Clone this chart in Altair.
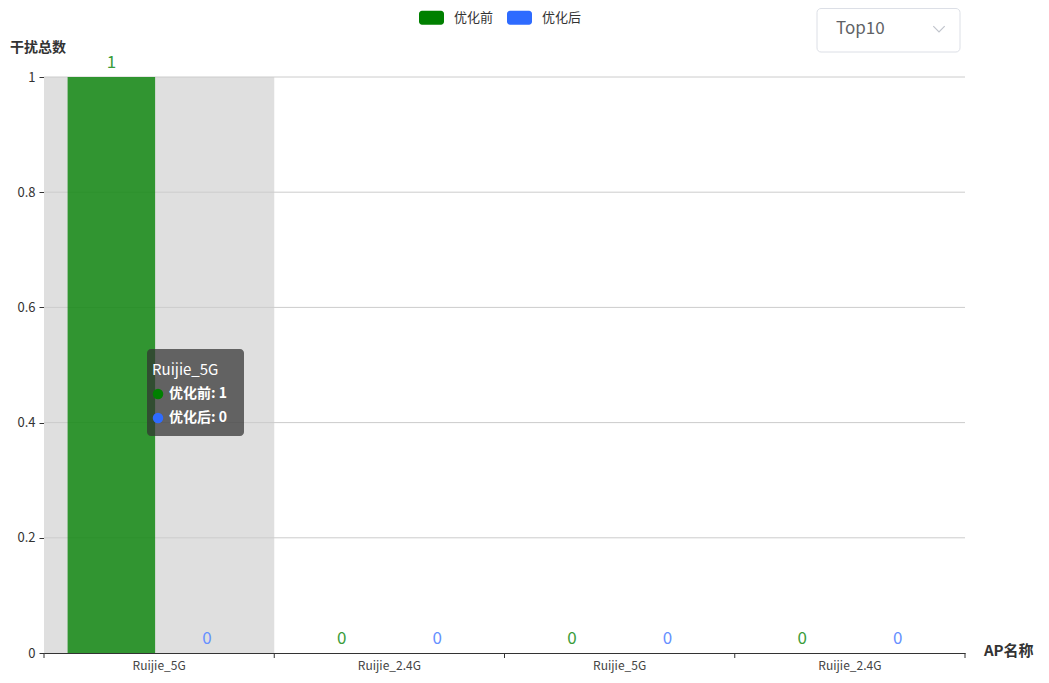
import altair as alt
import pandas as pd

# ---- data ----
categories = ["Ruijie_5G", "Ruijie_2.4G", "Ruijie_5G", "Ruijie_2.4G"]
series = ["优化前", "优化后"]
before = [1, 0, 0, 0]
after = [0, 0, 0, 0]
y_ticks = [0, 0.2, 0.4, 0.6, 0.8, 1]
highlight_index = 0
dropdown_label = "Top10"

bar_colors = ["#008000", "#2e6bff"]
label_colors = ["#3a9c3a", "#6690ff"]

keys = [f"{c}#{i}" for i, c in enumerate(categories)]
rows = []
for i, k in enumerate(keys):
    rows.append({"key": k, "series": series[0], "value": before[i]})
    rows.append({"key": k, "series": series[1], "value": after[i]})
df = pd.DataFrame(rows)

W, H = 921, 576
FONT = "Noto Sans CJK SC"
STEP = W / len(keys)

xscale = alt.Scale(domain=keys, paddingInner=0, paddingOuter=0)
yscale = alt.Scale(domain=[0, 1], nice=False)

x_enc = alt.X(
    "key:N",
    scale=xscale,
    axis=alt.Axis(
        title=None,
        labelExpr="split(datum.value, '#')[0]",
        ticks=True,
        tickSize=7,
        tickColor="rgba(0,0,0,0)",
        labelPadding=0,
        labelBaseline="top",
        labelFontSize=12,
        labelColor="#444",
        labelAngle=0,
        labelAlign="center",
        domainColor="#333",
        grid=False,
    ),
)
y_enc = alt.Y(
    "value:Q",
    scale=yscale,
    axis=alt.Axis(
        values=y_ticks,
        format="~g",
        grid=False,
        title=None,
        domainColor="#333",
        tickColor="#333",
        tickSize=5,
        labelColor="#333",
        labelFontSize=13,
        labelPadding=4,
    ),
)

one = pd.DataFrame({"a": [0]})

# hover shadow
shadow = alt.Chart(pd.DataFrame({"key": [keys[highlight_index]]})).mark_rect(
    color="#dfdfdf"
).encode(
    x=alt.X("key:N", scale=xscale),
    y=alt.Y(datum=1, scale=yscale),
    y2=alt.Y2(datum=0),
)

# gridlines
grid = alt.Chart(pd.DataFrame({"v": y_ticks[1:]})).mark_rule(
    color="#cccccc", strokeWidth=1
).encode(y=alt.Y("v:Q", scale=yscale))

legend_path = (
    "M-0.76,-0.56 L0.76,-0.56 A0.24,0.24 0 0 1 1,-0.32 L1,0.32 "
    "A0.24,0.24 0 0 1 0.76,0.56 L-0.76,0.56 A0.24,0.24 0 0 1 -1,0.32 "
    "L-1,-0.32 A0.24,0.24 0 0 1 -0.76,-0.56 Z"
)

xoff = alt.XOffset(
    "series:N",
    sort=series,
    scale=alt.Scale(domain=series, paddingInner=0.084, paddingOuter=0.247),
)

bars = alt.Chart(df).mark_bar(opacity=0.78).encode(
    x=x_enc,
    xOffset=xoff,
    y=y_enc,
    color=alt.Color(
        "series:N",
        scale=alt.Scale(domain=series, range=bar_colors),
        legend=alt.Legend(
            orient="none",
            legendX=375,
            legendY=-72,
            direction="horizontal",
            title=None,
            symbolType=legend_path,
            symbolSize=625,
            symbolOpacity=1,
            symbolStrokeWidth=0,
            labelFontSize=13,
            labelColor="#333",
            labelOffset=10,
            columnPadding=13,
        ),
    ),
)

labels = alt.Chart(df).mark_text(
    baseline="bottom", dy=-5, fontSize=17
).encode(
    x=alt.X("key:N", scale=xscale),
    xOffset=xoff,
    y=alt.Y("value:Q", scale=yscale),
    text=alt.Text("value:Q", format="~g"),
    fill=alt.Fill(
        "series:N",
        scale=alt.Scale(domain=series, range=label_colors),
        legend=None,
    ),
)

# x-axis boundary ticks (at the left edge of each band)
xticks = alt.Chart(pd.DataFrame({"key": keys})).mark_rule(
    color="#333", xOffset=-STEP / 2
).encode(
    x=alt.X("key:N", scale=xscale),
    y=alt.value(H),
    y2=alt.value(H + 5),
)
xtick_end = alt.Chart(one).mark_rule(color="#333").encode(
    x=alt.value(W), y=alt.value(H), y2=alt.value(H + 5)
)

y_title = alt.Chart(one).mark_text(
    text="干扰总数", align="left", baseline="middle", fontSize=14,
    fontWeight="bold", color="#333",
).encode(x=alt.value(-34), y=alt.value(-29))

x_title = alt.Chart(one).mark_text(
    text="AP名称", align="left", baseline="middle", fontSize=15,
    fontWeight="bold", color="#333",
).encode(x=alt.value(940), y=alt.value(574))

# static tooltip
tip_box = alt.Chart(one).mark_rect(
    fill="rgba(50,50,50,0.72)", cornerRadius=4
).encode(x=alt.value(103), x2=alt.value(200), y=alt.value(272), y2=alt.value(359))
tip_title = alt.Chart(one).mark_text(
    text=categories[highlight_index], align="left", baseline="middle",
    fontSize=15, color="white",
).encode(x=alt.value(108), y=alt.value(293))
tip_dot1 = alt.Chart(one).mark_point(
    filled=True, shape="circle", size=110, color=bar_colors[0], opacity=1
).encode(x=alt.value(114), y=alt.value(317))
tip_dot2 = alt.Chart(one).mark_point(
    filled=True, shape="circle", size=110, color=bar_colors[1], opacity=1
).encode(x=alt.value(114), y=alt.value(341))
tip_row1 = alt.Chart(one).mark_text(
    text=f"{series[0]}: {before[highlight_index]}", align="left",
    baseline="middle", fontSize=14, fontWeight="bold", color="white",
).encode(x=alt.value(125), y=alt.value(317))
tip_row2 = alt.Chart(one).mark_text(
    text=f"{series[1]}: {after[highlight_index]}", align="left",
    baseline="middle", fontSize=14, fontWeight="bold", color="white",
).encode(x=alt.value(125), y=alt.value(341))

# dropdown
dd_box = alt.Chart(one).mark_rect(
    fill="white", stroke="#dcdfe6", strokeWidth=1, cornerRadius=4
).encode(x=alt.value(773), x2=alt.value(916), y=alt.value(-68.5), y2=alt.value(-25))
dd_text = alt.Chart(one).mark_text(
    text=dropdown_label, align="left", baseline="middle", fontSize=17,
    color="#606266",
).encode(x=alt.value(792), y=alt.value(-48))
dd_arrow = alt.Chart(one).mark_point(
    shape="M-1,-0.5 L0,0.5 L1,-0.5", filled=False, stroke="#c0c4cc",
    strokeWidth=1.2, size=130, opacity=1,
).encode(x=alt.value(895), y=alt.value(-48))

chart = alt.layer(
    shadow, grid, bars, labels, xticks, xtick_end, y_title, x_title,
    tip_box, tip_title, tip_dot1, tip_dot2, tip_row1, tip_row2,
    dd_box, dd_text, dd_arrow,
).resolve_scale(color="independent", fill="independent").properties(
    width=W,
    height=H,
    autosize=alt.AutoSizeParams(type="none"),
    padding={"left": 36, "top": 69, "right": 76, "bottom": 22},
).configure(font=FONT).configure_view(stroke=None)

chart.save("out.html", embed_options={"renderer": "svg", "actions": False})
